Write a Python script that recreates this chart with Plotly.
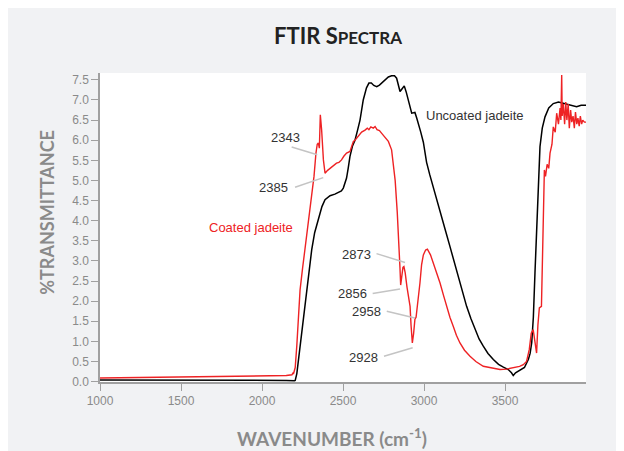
import plotly.graph_objects as go

# ---------------- data ----------------
uncoated_x = [1000, 1500, 2000, 2150, 2200, 2205, 2215, 2230, 2250, 2276, 2290, 2307, 2325, 2348,
              2370, 2389, 2420, 2450, 2471, 2490, 2502, 2512, 2522, 2532, 2543, 2558, 2574, 2590,
              2605, 2625, 2645, 2660, 2675, 2690, 2708, 2725, 2739, 2760, 2780, 2800, 2818, 2831,
              2842, 2852, 2865, 2878, 2890, 2903, 2914, 2924, 2935, 2944, 2955, 2965, 2980, 2996,
              3016, 3035, 3057, 3080, 3108, 3135, 3160, 3185, 3212, 3238, 3263, 3290, 3315, 3340,
              3366, 3395, 3428, 3460, 3490, 3520, 3540, 3551, 3565, 3593, 3620, 3644, 3655, 3665,
              3675, 3685, 3695, 3705, 3716, 3730, 3747, 3770, 3798, 3830, 3860, 3880, 3910, 3942,
              3970, 4000]
uncoated_y = [0.04, 0.04, 0.03, 0.03, 0.02, 0.03, 0.2, 0.7, 1.5, 2.28, 2.75, 3.28, 3.7, 4.02,
              4.35, 4.52, 4.62, 4.66, 4.70, 4.74, 4.81, 4.92, 5.06, 5.3, 5.6, 5.85, 6.0, 6.25,
              6.5, 7.0, 7.3, 7.42, 7.42, 7.36, 7.33, 7.37, 7.42, 7.5, 7.57, 7.60, 7.6, 7.54,
              7.35, 7.21, 7.28, 7.35, 7.2, 7.0, 6.78, 6.67, 6.68, 6.69, 6.55, 6.42, 6.2, 5.95,
              5.45, 5.15, 4.85, 4.5, 4.10, 3.72, 3.36, 2.99, 2.61, 2.22, 1.87, 1.56, 1.29, 1.06,
              0.88, 0.7, 0.55, 0.43, 0.36, 0.3, 0.22, 0.15, 0.22, 0.28, 0.35, 0.55, 0.7, 0.97,
              1.6, 2.7, 3.85, 4.9, 5.84, 6.3, 6.58, 6.8, 6.91, 6.95, 6.92, 6.91, 6.88, 6.83,
              6.87, 6.87]

coated_x = [1000, 1500, 2000, 2150, 2185, 2190, 2195, 2205, 2215, 2235, 2250, 2265, 2280, 2296,
            2310, 2321, 2333, 2341, 2348, 2354, 2360, 2368, 2379, 2389, 2405, 2420, 2440, 2460,
            2475, 2491, 2505, 2522, 2543, 2564, 2574, 2590, 2600, 2615, 2636, 2650, 2660, 2672,
            2687, 2698, 2710, 2725, 2739, 2760, 2780, 2800, 2812, 2822, 2835, 2848, 2852, 2856,
            2862, 2870, 2876, 2884, 2895, 2905, 2914, 2920, 2928, 2936, 2944, 2951, 2960, 2975,
            2985, 2996, 3010, 3021, 3040, 3058, 3080, 3099, 3120, 3140, 3160, 3181, 3200, 3222,
            3250, 3284, 3320, 3366, 3420, 3469, 3510, 3551, 3590, 3613, 3633, 3650, 3662, 3674,
            3685, 3695, 3703, 3712, 3725, 3735, 3743, 3750, 3760, 3770, 3778, 3790, 3798, 3810,
            3819, 3830, 3840, 3845, 3850, 3853, 3860, 3868, 3875, 3882, 3890, 3897, 3905, 3912,
            3920, 3928, 3935, 3943, 3950, 3958, 3965, 3973, 3980, 3990, 4000]
coated_y = [0.09, 0.11, 0.13, 0.15, 0.17, 0.21, 0.2, 0.35, 0.9, 2.28, 2.8, 3.28, 3.8, 4.27,
            4.75, 5.1, 5.68, 5.9, 5.93, 5.8, 6.63, 6.26, 5.51, 5.18, 5.25, 5.3, 5.38, 5.43,
            5.45, 5.51, 5.6, 5.68, 5.72, 5.97, 6.0, 6.08, 6.12, 6.2, 6.25, 6.3, 6.26, 6.33,
            6.3, 6.34, 6.26, 6.24, 6.17, 6.08, 5.97, 5.76, 5.4, 5.0, 4.2, 3.3, 2.8, 2.4,
            2.6, 2.84, 2.86, 2.7, 2.35, 2.05, 1.87, 1.4, 0.96, 1.2, 1.55, 1.6, 1.9, 2.45,
            2.9, 3.15, 3.27, 3.29, 3.15, 2.95, 2.7, 2.45, 2.15, 1.87, 1.6, 1.37, 1.15, 0.96,
            0.78, 0.63, 0.5, 0.38, 0.33, 0.30, 0.31, 0.34, 0.38, 0.42, 0.5, 0.8, 1.2, 1.29,
            0.9, 0.71, 1.4, 1.83, 1.87, 3.5, 5.26, 5.1, 5.4, 5.3, 5.68, 5.9, 6.33, 6.2,
            6.67, 6.4, 6.8, 6.5, 7.62, 6.6, 6.9, 6.4, 6.95, 6.5, 6.9, 6.3, 6.75, 6.45,
            6.6, 6.3, 6.7, 6.4, 6.55, 6.35, 6.6, 6.4, 6.5, 6.45, 6.45]

x_ticks = [1000, 1500, 2000, 2500, 3000, 3500]
y_ticks = [0.0, 0.5, 1.0, 1.5, 2.0, 2.5, 3.0, 3.5, 4.0, 4.5, 5.0, 5.5, 6.0, 6.5, 7.0, 7.5]

peak_labels = ["2343", "2385", "2873", "2856", "2958", "2928"]
label_x = [2144, 2068, 2581, 2556, 2643, 2628]
label_y = [6.07, 4.83, 3.15, 2.18, 1.73, 0.60]
leader_x0 = [2183, 2204, 2707, 2683, 2770, 2753]
leader_y0 = [5.83, 4.83, 3.18, 2.19, 1.75, 0.63]
leader_x1 = [2341, 2378, 2883, 2852, 2944, 2930]
leader_y1 = [5.64, 5.07, 2.96, 2.30, 1.58, 0.84]

RED = "#ee2224"
GRAY_TXT = "#8a8a8a"
AXIS = "#a0a0a0"

fig = go.Figure()
fig.add_trace(go.Scatter(x=uncoated_x, y=uncoated_y, mode="lines",
                         line=dict(color="#000000", width=1.5), name="Uncoated jadeite"))
fig.add_trace(go.Scatter(x=coated_x, y=coated_y, mode="lines",
                         line=dict(color=RED, width=1.4), name="Coated jadeite"))

shapes = []
for a, b, c, d in zip(leader_x0, leader_y0, leader_x1, leader_y1):
    shapes.append(dict(type="line", xref="x", yref="y", x0=a, y0=b, x1=c, y1=d,
                       line=dict(color="#c4c4c4", width=1.5)))

annotations = []
for t, lx, ly in zip(peak_labels, label_x, label_y):
    annotations.append(dict(x=lx, y=ly, xref="x", yref="y", text=t, showarrow=False,
                            xanchor="center", yanchor="middle",
                            font=dict(family="Liberation Sans, Arial", size=13, color="#333333")))
annotations.append(dict(x=1932, y=3.82, xref="x", yref="y", text="Coated jadeite", showarrow=False,
                        xanchor="center", yanchor="middle",
                        font=dict(family="Liberation Sans, Arial", size=13, color=RED)))
annotations.append(dict(x=3315, y=6.62, xref="x", yref="y", text="Uncoated jadeite", showarrow=False,
                        xanchor="center", yanchor="middle",
                        font=dict(family="Liberation Sans, Arial", size=13, color="#333333")))
annotations.append(dict(x=0.49, y=1.12, xref="paper", yref="paper",
                        text="<b>FTIR S<span style='font-size:17px'>PECTRA</span></b>",
                        xanchor="center", yanchor="middle",
                        showarrow=False, font=dict(family="Lato", size=22, color="#222222")))
annotations.append(dict(x=-0.1097, y=0.55, xref="paper", yref="paper", textangle=-90,
                        text="<b>%TRANSMITTANCE</b>", showarrow=False,
                        xanchor="center", yanchor="middle",
                        font=dict(family="Lato", size=18, color=GRAY_TXT)))
annotations.append(dict(x=0.478, y=-0.178, xref="paper", yref="paper",
                        text="<b>WAVENUMBER (cm<sup>-1</sup>)</b>", showarrow=False,
                        xanchor="center", yanchor="middle",
                        font=dict(family="Lato", size=19, color=GRAY_TXT)))

fig.update_layout(
    width=640, height=460,
    margin=dict(l=92, r=62, t=65, b=86),
    paper_bgcolor="#f1f2f4", plot_bgcolor="white",
    showlegend=False,
    shapes=shapes, annotations=annotations,
    xaxis=dict(range=[1000, 4000], tickvals=x_ticks, ticks="outside", ticklen=7,
               tickcolor=AXIS, showline=True, linecolor=AXIS, linewidth=1.5,
               showgrid=False, zeroline=False,
               tickfont=dict(family="Liberation Sans, Arial", size=12, color=GRAY_TXT)),
    yaxis=dict(range=[-0.01, 7.67], tickvals=y_ticks, tickformat=".1f", ticks="outside",
               ticklen=7, tickcolor=AXIS, showline=True, linecolor=AXIS, linewidth=1.5,
               showgrid=False, zeroline=False,
               tickfont=dict(family="Liberation Sans, Arial", size=12, color=GRAY_TXT)),
)

fig.write_html("out.html")
